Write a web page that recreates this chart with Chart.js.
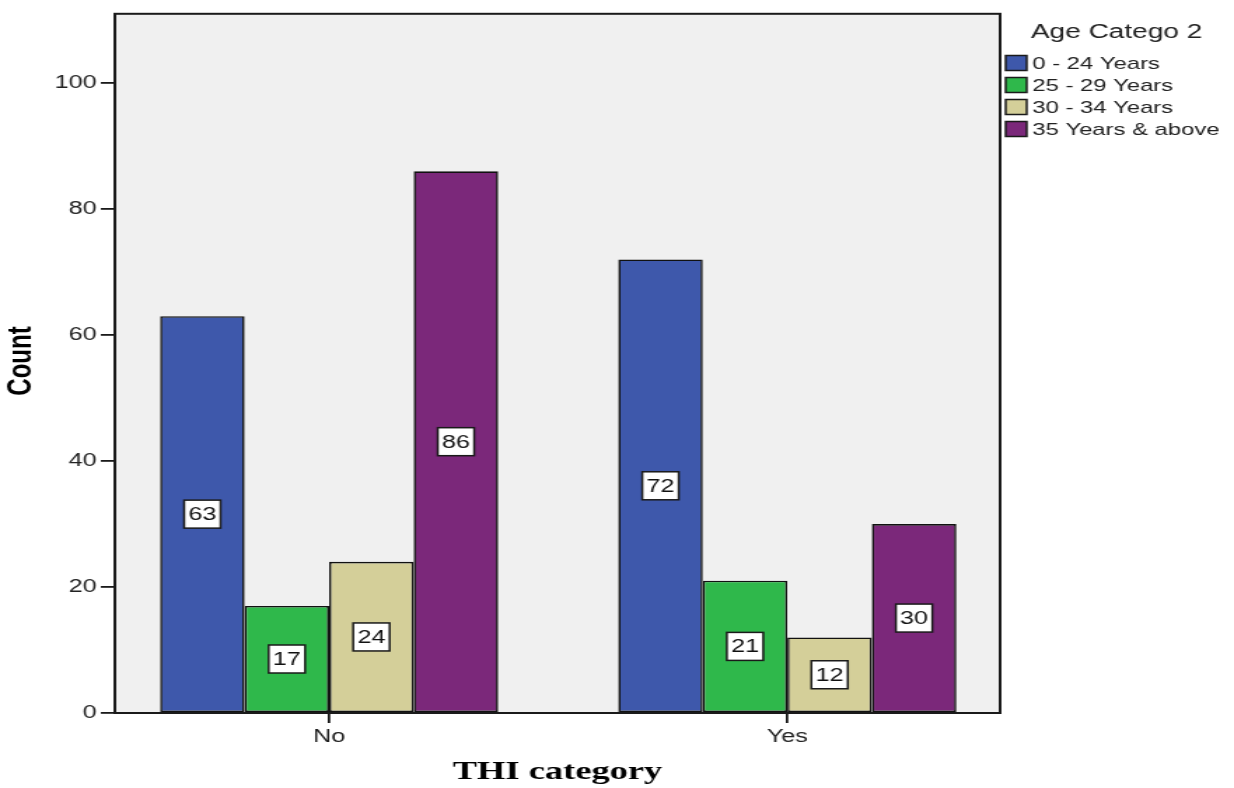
<!DOCTYPE html>
<html>
<head>
<meta charset="utf-8">
<script src="https://cdn.jsdelivr.net/npm/chart.js@4"></script>
<style>
  html, body { margin: 0; padding: 0; background: #fff; }
</style>
</head>
<body>
<canvas id="c" width="881" height="788" style="display:block;width:1234px;height:788px;"></canvas>
<script>
// ---- data ----
const categories = ["No", "Yes"];
const seriesNames = ["0 - 24 Years", "25 - 29 Years", "30 - 34 Years", "35 Years & above"];
const age0to24 = [63, 72];
const age25to29 = [17, 21];
const age30to34 = [24, 12];
const age35plus = [86, 30];
const yTicks = [0, 20, 40, 60, 80, 100];
const legendTitle = "Age Catego 2";
const xTitle = "THI category";
const yTitle = "Count";

const seriesValues = [age0to24, age25to29, age30to34, age35plus];
const colors = ["#3e58ab", "#2fb84b", "#d4cf99", "#7b287a"];
const FONT = "'Liberation Sans', Arial, sans-serif";

const datasets = seriesNames.map((name, i) => ({
  label: name,
  data: seriesValues[i].map((v, j) => ({ x: j, y: v })),
  backgroundColor: colors[i],
  borderColor: "#111111",
  borderWidth: 1.6,
  borderSkipped: false,
  categoryPercentage: 0.738,
  barPercentage: 1.0
}));

const deco = {
  id: "deco",
  beforeDraw(chart) {
    const { ctx, chartArea: a } = chart;
    ctx.save();
    ctx.fillStyle = "#ffffff";
    ctx.fillRect(0, 0, chart.width, chart.height);
    ctx.fillStyle = "#f0f0f0";
    ctx.fillRect(a.left, a.top, a.right - a.left, a.bottom - a.top);
    ctx.restore();
  },
  afterDatasetsDraw(chart) {
    const { ctx } = chart;
    ctx.save();
    chart.data.datasets.forEach((ds, i) => {
      const meta = chart.getDatasetMeta(i);
      meta.data.forEach((el, j) => {
        const cx = el.x;
        const cy = (el.y + el.base) / 2;
        const w = 26, h = 28;
        ctx.fillStyle = "#ffffff";
        ctx.fillRect(cx - w / 2, cy - h / 2, w, h);
        ctx.strokeStyle = "#1a1a1a";
        ctx.lineWidth = 1.5;
        ctx.strokeRect(cx - w / 2, cy - h / 2, w, h);
        ctx.fillStyle = "#111";
        ctx.font = "18px " + FONT;
        ctx.textAlign = "center";
        ctx.textBaseline = "middle";
        ctx.fillText(String(ds.data[j].y), cx, cy + 1);
      });
    });
    ctx.restore();
  },
  afterDraw(chart) {
    const { ctx, chartArea: a } = chart;
    ctx.save();
    // frame
    ctx.strokeStyle = "#1a1a1a";
    ctx.lineWidth = 2;
    ctx.strokeRect(a.left, a.top, a.right - a.left, a.bottom - a.top);

    // y title
    ctx.save();
    ctx.translate(15, 361);
    ctx.rotate(-Math.PI / 2);
    ctx.fillStyle = "#000";
    ctx.font = "bold 24px " + FONT;
    ctx.textAlign = "center";
    ctx.textBaseline = "middle";
    ctx.fillText(yTitle, 0, 0);
    ctx.restore();

    // x title
    ctx.fillStyle = "#000";
    ctx.font = "bold 26px 'Liberation Serif', 'Times New Roman', serif";
    ctx.textAlign = "center";
    ctx.textBaseline = "middle";
    ctx.fillText(xTitle, 398, 772);

    // legend
    ctx.textAlign = "left";
    ctx.textBaseline = "alphabetic";
    ctx.font = "20px " + FONT;
    ctx.fillStyle = "#222";
    ctx.fillText(legendTitle, 736, 38);
    ctx.font = "17px " + FONT;
    seriesNames.forEach((name, i) => {
      const yc = 63 + i * 22;
      ctx.fillStyle = colors[i];
      ctx.fillRect(718, yc - 7.5, 15, 15);
      ctx.strokeStyle = "#1a1a1a";
      ctx.lineWidth = 1.5;
      ctx.strokeRect(718, yc - 7.5, 15, 15);
      ctx.fillStyle = "#222";
      ctx.textBaseline = "middle";
      ctx.fillText(name, 737, yc + 1);
    });
    ctx.restore();
  }
};

new Chart(document.getElementById("c"), {
  type: "bar",
  data: { datasets },
  options: {
    responsive: false,
    animation: false,
    devicePixelRatio: 1,
    layout: { padding: { left: 0, top: 9, right: 167, bottom: 0 } },
    plugins: { legend: { display: false }, tooltip: { enabled: false } },
    scales: {
      x: {
        type: "linear",
        min: -0.4677,
        max: 1.4644,
        offset: false,
        afterBuildTicks(scale) { scale.ticks = categories.map((c, i) => ({ value: i })); },
        afterFit(scale) { scale.height = 75; },
        ticks: {
          callback: (v) => categories[v],
          color: "#222",
          font: { family: FONT, size: 18 },
          padding: 3,
          maxRotation: 0,
          autoSkip: false
        },
        grid: { offset: false, drawOnChartArea: false, drawTicks: true, tickLength: 10, color: "#1a1a1a", lineWidth: 1.8 },
        border: { display: true, color: "#1a1a1a", width: 2 }
      },
      y: {
        type: "linear",
        min: 0,
        max: 111,
        afterBuildTicks(scale) { scale.ticks = yTicks.map(v => ({ value: v })); },
        afterFit(scale) { scale.width = 82; },
        ticks: {
          color: "#222",
          font: { family: FONT, size: 18 },
          padding: 3
        },
        grid: { drawOnChartArea: false, drawTicks: true, tickLength: 10, color: "#1a1a1a", lineWidth: 1.8 },
        border: { display: true, color: "#1a1a1a", width: 2 }
      }
    }
  },
  plugins: [deco]
});
</script>
</body>
</html>
